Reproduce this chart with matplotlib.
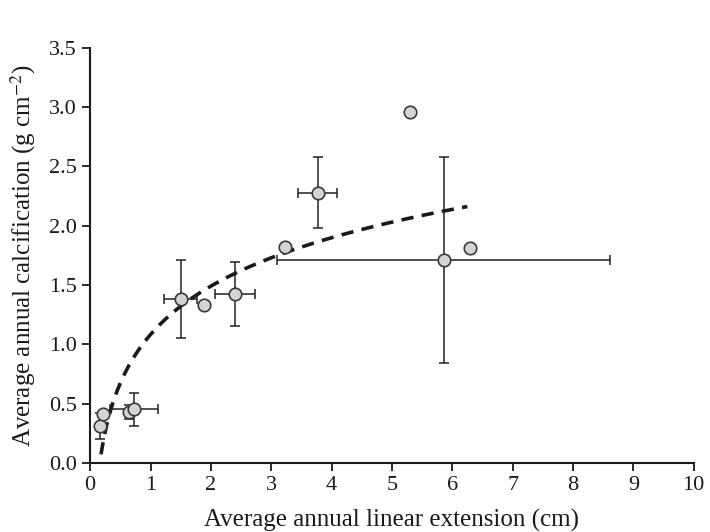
import numpy as np
import matplotlib
matplotlib.use("Agg")
import matplotlib.pyplot as plt

# Data
ext = [0.17, 0.22, 0.64, 0.73, 1.50, 1.89, 2.40, 3.23, 3.77, 5.30, 5.86, 6.29]
calc = [0.31, 0.41, 0.43, 0.45, 1.38, 1.33, 1.42, 1.82, 2.28, 2.96, 1.71, 1.81]
ext_err = [0.0, 0.0, 0.05, 0.40, 0.27, 0.0, 0.33, 0.0, 0.32, 0.0, 2.76, 0.0]
calc_err = [0.11, 0.0, 0.06, 0.14, 0.33, 0.0, 0.27, 0.0, 0.30, 0.0, 0.87, 0.0]
fit_range = [0.18, 6.25]

plt.rcParams["font.family"] = ["Liberation Serif", "DejaVu Serif"]
plt.rcParams["mathtext.fontset"] = "stix"

fig = plt.figure(figsize=(7.1, 5.32), dpi=100)
ax = fig.add_axes([0.127, 0.130, 0.850, 0.780])

x = np.array(ext)
y = np.array(calc)

# logarithmic trend line fitted to the points
b, a = np.polyfit(np.log(x), y, 1)
xf = np.linspace(fit_range[0], fit_range[1], 200)
ax.plot(xf, a + b * np.log(xf), color="#1a1a1a", linestyle=(0, (3.4, 2.3)),
        linewidth=2.6, zorder=2)

xe = np.where(np.array(ext_err) > 0, ext_err, np.nan)
ye = np.where(np.array(calc_err) > 0, calc_err, np.nan)
ax.errorbar(x, y, xerr=xe, yerr=ye, fmt="none", ecolor="#222222",
            elinewidth=1.1, capsize=3.5, capthick=1.1, zorder=3)
ax.plot(x, y, "o", markersize=9, markerfacecolor="#d4d4d4",
        markeredgecolor="#3a3a3a", markeredgewidth=1.2, zorder=4)

ax.set_xlim(0, 10)
ax.set_ylim(0, 3.5)
ax.set_xticks(range(0, 11))
ax.set_yticks(np.arange(0, 3.51, 0.5))
ax.set_yticklabels([f"{v:.1f}" for v in np.arange(0, 3.51, 0.5)])

for s in ["top", "right"]:
    ax.spines[s].set_visible(False)
for s in ["left", "bottom"]:
    ax.spines[s].set_linewidth(1.5)
    ax.spines[s].set_color("#1a1a1a")
ax.tick_params(direction="out", length=6, width=1.3, labelsize=16, colors="#1a1a1a")

ax.set_xlabel("Average annual linear extension (cm)", fontsize=18, color="#1a1a1a", labelpad=10)
ax.set_ylabel("Average annual calcification (g cm$^{-2}$)", fontsize=18, color="#1a1a1a", labelpad=8)

fig.savefig("out.png", dpi=100)
